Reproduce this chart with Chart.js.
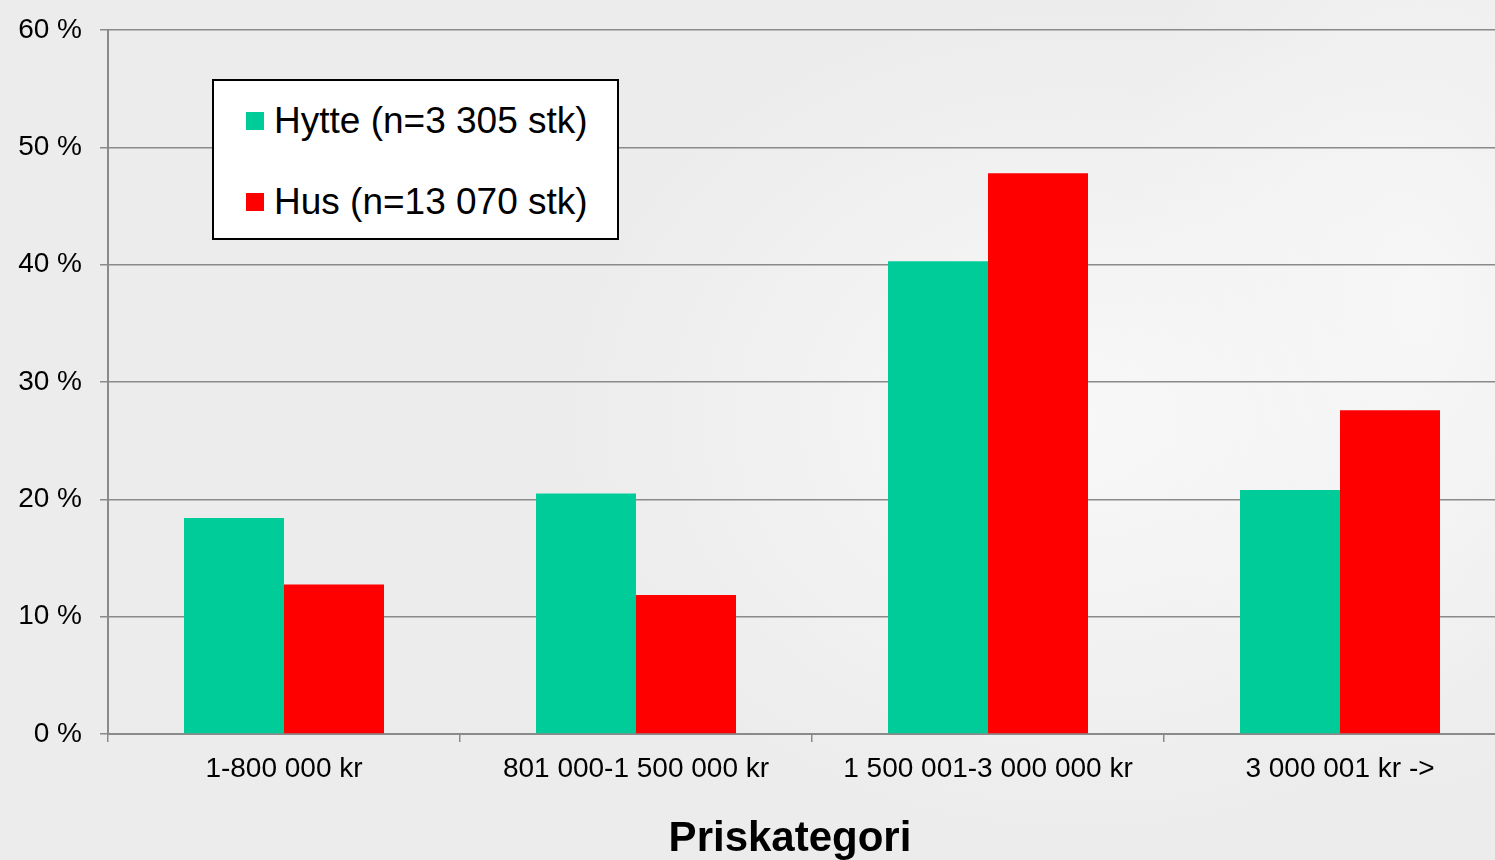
<!DOCTYPE html>
<html>
<head>
<meta charset="utf-8">
<script src="https://cdn.jsdelivr.net/npm/chart.js@4/dist/chart.umd.min.js"></script>
<style>
  html, body { margin: 0; padding: 0; overflow: hidden; }
  body {
    width: 1495px; height: 860px; position: relative;
    background:
      radial-gradient(ellipse 520px 420px at 1080px 420px, #f8f8f8 0%, rgba(248,248,248,0) 100%),
      radial-gradient(ellipse 300px 500px at 1420px 300px, #f6f6f6 0%, rgba(246,246,246,0) 100%),
      #ececec;
    font-family: "Liberation Sans", Arial, sans-serif;
  }
  #wrap { position: absolute; left: 0; top: 0; width: 1580px; height: 860px; }
  #legend {
    position: absolute; left: 212px; top: 79px; width: 403px; height: 157px;
    background: #fff; border: 2px solid #000;
  }
  .lg-item { position: absolute; left: 32px; display: flex; align-items: center; height: 40px; }
  .lg-box { width: 18px; height: 18px; margin-right: 10px; }
  .lg-text { font-size: 37px; color: #000; white-space: nowrap; }
</style>
</head>
<body>
<div id="wrap"><canvas id="c"></canvas></div>
<div id="legend"></div>
<script>
const categories = ['1-800 000 kr', '801 000-1 500 000 kr', '1 500 001-3 000 000 kr', '3 000 001 kr ->'];
const hytteValues = [18.4, 20.5, 40.3, 20.8];
const husValues = [12.75, 11.85, 47.8, 27.6];
const seriesLabels = ['Hytte (n=3 305 stk)', 'Hus (n=13 070 stk)'];
const seriesColors = ['#00CC99', '#FF0000'];
const yTicks = [0, 10, 20, 30, 40, 50, 60];
const xTitle = 'Priskategori';

const FONT = "'Liberation Sans', Arial, sans-serif";
const AXIS = '#8a8a8a';

const datasets = [hytteValues, husValues].map((vals, i) => ({
  label: seriesLabels[i],
  data: vals,
  backgroundColor: seriesColors[i],
  borderWidth: 0,
  categoryPercentage: 200 / 352,
  barPercentage: 1.0,
}));

// axis title sits a bit left of the plot centre in the original, so draw it ourselves
const xTitlePlugin = {
  id: 'xTitle',
  afterDraw(chart) {
    const ctx = chart.ctx;
    ctx.save();
    ctx.font = `bold 42px ${FONT}`;
    ctx.fillStyle = '#000';
    ctx.textAlign = 'center';
    ctx.textBaseline = 'alphabetic';
    ctx.fillText(xTitle, 790, 851);
    ctx.restore();
  }
};

const chart = new Chart(document.getElementById('c'), {
  type: 'bar',
  data: { labels: categories, datasets },
  plugins: [xTitlePlugin],
  options: {
    responsive: true,
    maintainAspectRatio: false,
    animation: false,
    layout: { padding: { left: 0, top: 27, right: 64, bottom: 0 } },
    plugins: {
      legend: { display: false },
      tooltip: { enabled: false },
    },
    scales: {
      x: {
        grid: { offset: true, drawOnChartArea: false, drawTicks: true, tickLength: 8, color: AXIS, lineWidth: 1.5 },
        border: { color: AXIS, width: 2 },
        ticks: { color: '#000', font: { family: FONT, size: 28 }, padding: 10, maxRotation: 0 },
        afterFit: s => { s.height = 126; },
      },
      y: {
        min: 0, max: 60,
        afterBuildTicks: s => { s.ticks = yTicks.map(v => ({ value: v })); },
        grid: { color: AXIS, lineWidth: 1.5, tickLength: 8, drawTicks: true },
        border: { color: AXIS, width: 2 },
        // small lineHeight keeps the label-driven top padding down so 60 % lands at y=30
        ticks: { color: '#000', font: { family: FONT, size: 28, lineHeight: 0.86 }, padding: 18, callback: v => `${v} %` },
        afterFit: s => { s.width = 108; },
      },
    },
  },
});

// legend box drawn as HTML from the dataset labels/colours
const legendEl = document.getElementById('legend');
const rowTops = [20, 101];
datasets.forEach((ds, i) => {
  const item = document.createElement('div');
  item.className = 'lg-item';
  item.style.top = rowTops[i] + 'px';
  item.innerHTML = `<div class="lg-box" style="background:${ds.backgroundColor}"></div><div class="lg-text">${ds.label}</div>`;
  legendEl.appendChild(item);
});
</script>
</body>
</html>
